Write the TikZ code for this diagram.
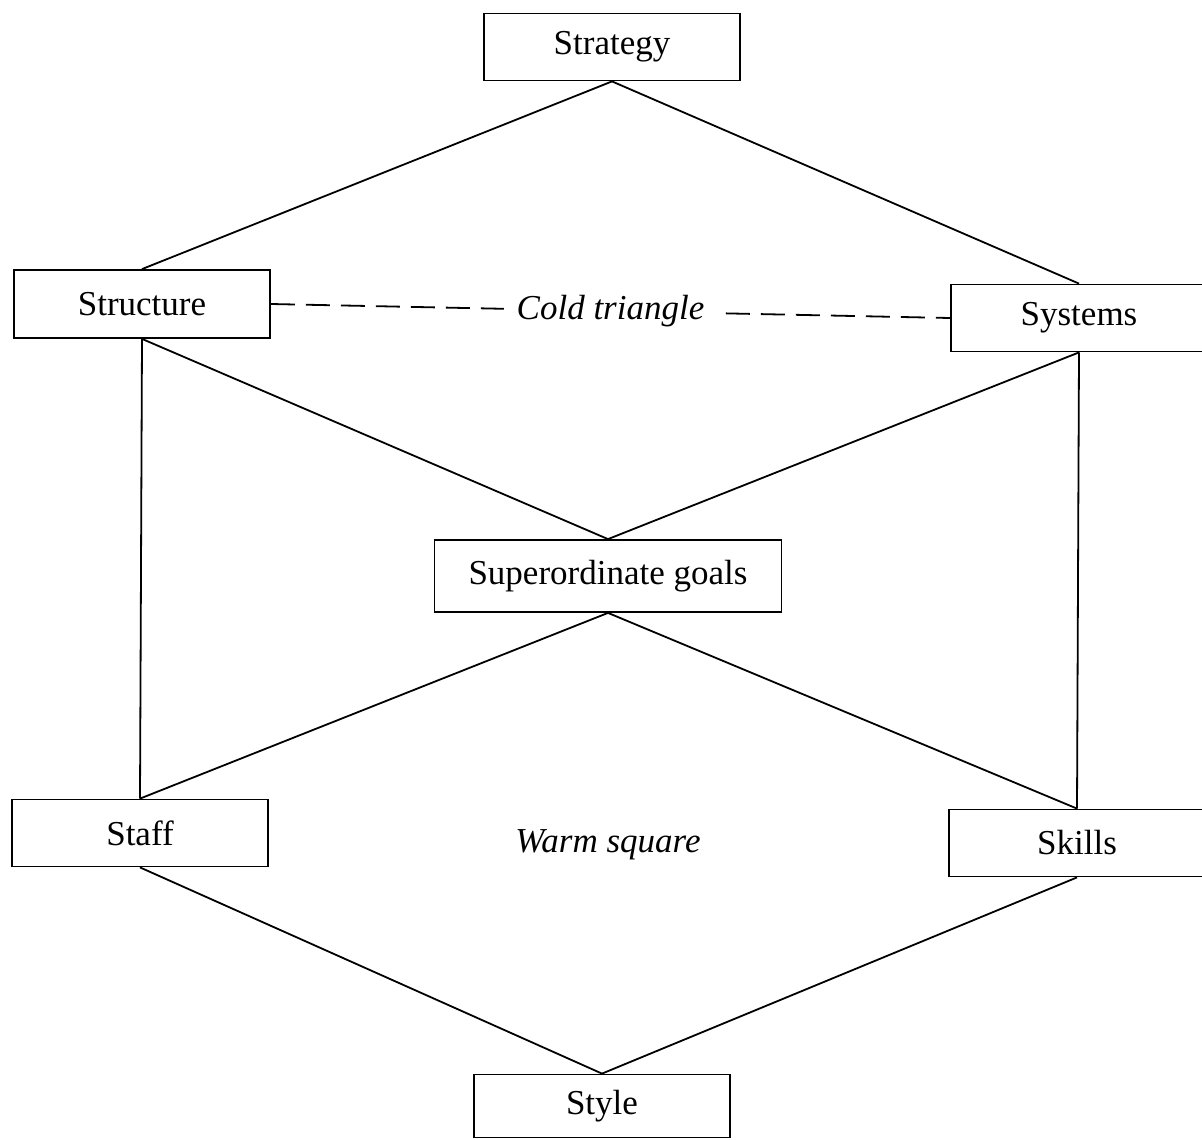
\documentclass[tikz,border=0pt]{standalone}
\usepackage{fontspec}
\setmainfont{Liberation Serif}
\usepackage{tikz}
\usetikzlibrary{positioning}

\begin{document}
\begin{tikzpicture}[
    x=1pt, y=-1pt,
    sbox/.style={rectangle, draw, line width=1.8pt, minimum width=256pt, minimum height=67pt, inner sep=0pt, font=\fontsize{35}{40}\selectfont},
    link/.style={line width=1.8pt},
    tag/.style={font=\fontsize{35}{40}\selectfont\itshape},
]
    \useasboundingbox (0,0) rectangle (1202,1140);
    \node[sbox] (St) at (612,47) {Strategy};
    \node[sbox, minimum height=68pt] (Sr) at (142,304) {Structure};
    \node[sbox] (Sy) at (1079,318) {Systems};
    \node[sbox, minimum width=347pt, minimum height=72pt] (Sg) at (608,576) {Superordinate goals};
    \node[sbox] (Sf) at (140,833) {Staff};
    \node[sbox] (Sk) at (1077,843) {Skills};
    \node[sbox, minimum height=63pt] (Sl) at (602,1106) {Style};
    \draw[link] (St.south) -- (Sr.north);
    \draw[link] (St.south) -- (Sy.north);
    \draw[link] (Sr.south) -- (Sg.north);
    \draw[link] (Sy.south) -- (Sg.north);
    \draw[link] (Sr.south) -- (Sf.north);
    \draw[link] (Sy.south) -- (Sk.north);
    \draw[link] (Sg.south) -- (Sf.north);
    \draw[link] (Sg.south) -- (Sk.north);
    \draw[link] (Sf.south) -- (Sl.north);
    \draw[link] (Sk.south) -- (Sl.north);
    \draw[link, dash pattern=on 24pt off 11pt] (Sr.east) -- node[tag, fill=white, inner sep=13pt] (Ct) {Cold triangle} (Sy.west);
    \node[tag] (Ws) at (608,845) {Warm square};
\end{tikzpicture}
\end{document}
